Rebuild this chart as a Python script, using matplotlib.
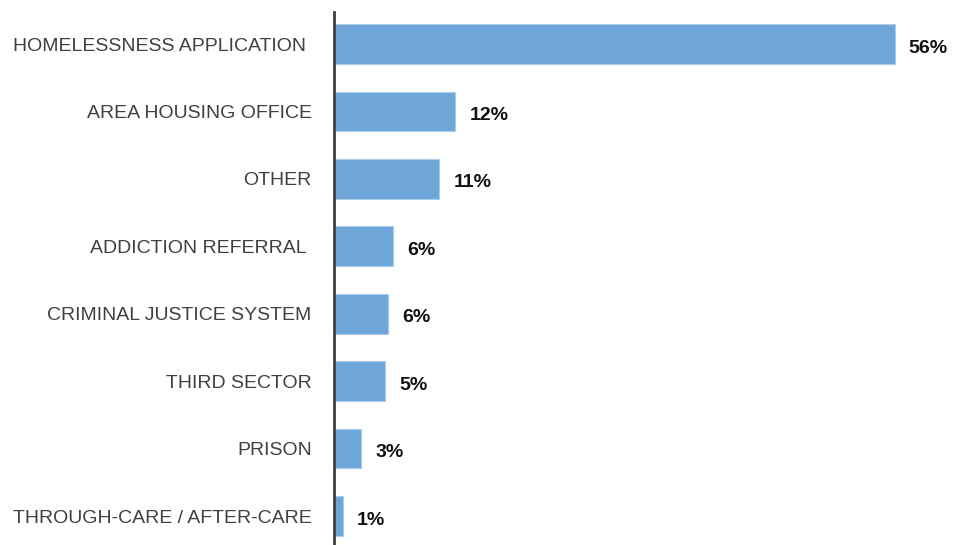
import matplotlib
matplotlib.use('Agg')
import matplotlib.pyplot as plt

# data
categories = ['HOMELESSNESS APPLICATION ', 'AREA HOUSING OFFICE', 'OTHER',
              'ADDICTION REFERRAL ', 'CRIMINAL JUSTICE SYSTEM', 'THIRD SECTOR',
              'PRISON', 'THROUGH-CARE / AFTER-CARE']
values = [55.9, 12.1, 10.5, 5.9, 5.4, 5.1, 2.7, 0.9]
value_labels = ['56%', '12%', '11%', '6%', '6%', '5%', '3%', '1%']

plt.rcParams['font.family'] = ['Liberation Sans', 'DejaVu Sans']

fig = plt.figure(figsize=(9.55, 5.45), dpi=100)
ax = fig.add_axes([0.3497, 0.0, 0.6303, 0.978])

y = list(range(len(categories)))
ax.barh(y, values, height=0.59, color='#6FA6D9', edgecolor='#A9CCEC', linewidth=0.8)

for yi, v, lab in zip(y, values, value_labels):
    ax.text(v + 1.4, yi + 0.03, lab, va='center_baseline', ha='left', fontsize=14,
            fontweight='bold', color='#111111')

ax.set_yticks(y)
ax.set_yticklabels(categories, fontsize=14, color='#404040')
ax.tick_params(axis='y', length=0, pad=16)
ax.set_xticks([])
ax.set_xlim(0, 60)
ax.set_ylim(7.43, -0.475)

for s in ['top', 'right', 'bottom']:
    ax.spines[s].set_visible(False)
ax.spines['left'].set_color('#404040')
ax.spines['left'].set_linewidth(2)

fig.savefig('out.png', dpi=100, facecolor='white')
